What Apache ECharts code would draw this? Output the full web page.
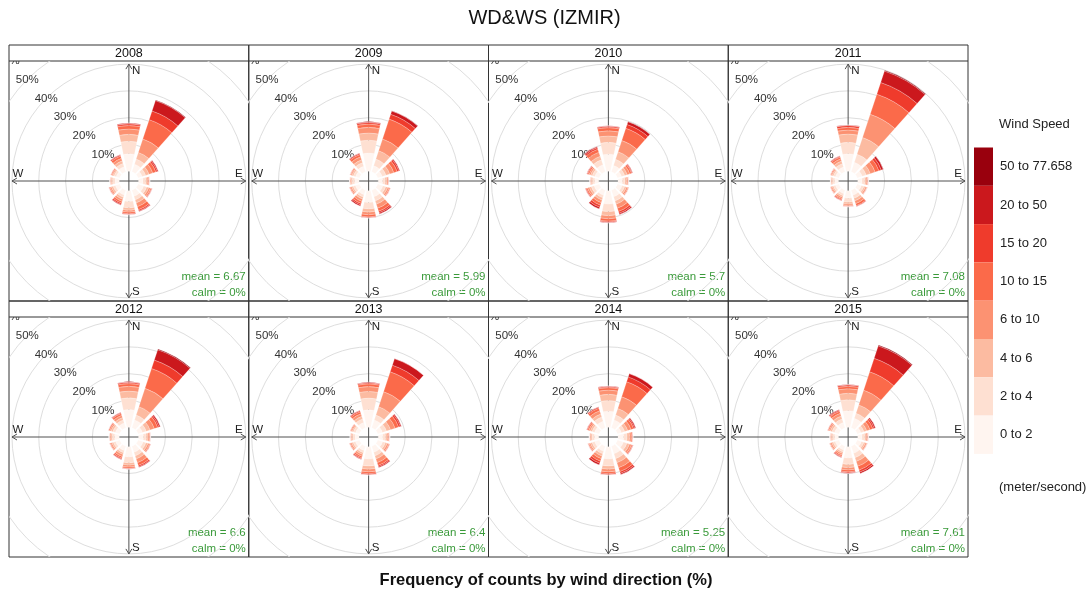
<!DOCTYPE html>
<html>
<head>
<meta charset="utf-8">
<script src="https://cdn.jsdelivr.net/npm/echarts@6/dist/echarts.min.js"></script>
<style>
  html, body { margin: 0; padding: 0; background: #ffffff; }
  #chart { width: 1089px; height: 592px; }
</style>
</head>
<body>
<div id="chart"></div>
<script>
// Wind rose panels, one per year: share of hours (%) by direction and speed class.
const years = ['2008', '2009', '2010', '2011', '2012', '2013', '2014', '2015'];
const directions = ['0', '30', '60', '90', '120', '150', '180', '210', '240', '270', '300', '330'];
const speedBins = ['0 to 2', '2 to 4', '4 to 6', '6 to 10', '10 to 15', '15 to 20', '20 to 50', '50 to 77.658'];
const binColors = ['#FFF5F0', '#FEE0D2', '#FCBBA1', '#FC9272', '#FB6A4A', '#EF3B2C', '#CB181D', '#99000D'];
const ringTicks = [10, 20, 30, 40, 50, 60];
const meanSpeed = ['6.67', '5.99', '5.7', '7.08', '6.6', '6.4', '5.25', '7.61'];
const calmPct = ['0%', '0%', '0%', '0%', '0%', '0%', '0%', '0%'];

// rows: direction (0..330), columns: speed class (0-2 .. 50-77.658)
const rose2008 = [
  [6.5, 4.7, 2.6, 2.0, 1.3, 0.6, 0.3, 0],
  [3.0, 2.0, 2.6, 5.3, 7.6, 3.4, 4.1, 0.2],
  [1.6, 1.4, 1.3, 1.5, 1.2, 0.6, 0.4, 0],
  [1.7, 1.0, 0.6, 0.5, 0.3, 0.1, 0, 0],
  [2.2, 1.2, 0.8, 0.7, 0.4, 0.2, 0.1, 0],
  [2.4, 1.4, 1.2, 1.5, 1.2, 0.5, 0.3, 0],
  [4.0, 2.4, 0.9, 0.7, 0.6, 0.3, 0.1, 0],
  [1.9, 0.9, 0.8, 0.8, 0.7, 0.5, 0.3, 0],
  [1.7, 0.9, 0.7, 0.5, 0.3, 0.2, 0, 0],
  [1.6, 0.9, 0.5, 0.3, 0.2, 0, 0, 0],
  [1.4, 0.8, 0.5, 0.4, 0.3, 0.2, 0, 0],
  [2.0, 1.3, 1.0, 1.0, 0.9, 0.4, 0.2, 0]
];
const rose2009 = [
  [6.8, 4.8, 2.7, 2.1, 1.2, 0.6, 0.3, 0],
  [2.4, 2.6, 3.3, 4.6, 7.8, 1.9, 1.3, 0.1],
  [1.7, 1.5, 1.5, 1.6, 1.3, 0.7, 0.4, 0],
  [1.6, 1.0, 0.6, 0.5, 0.2, 0.1, 0, 0],
  [2.0, 1.1, 0.8, 0.6, 0.3, 0.2, 0, 0],
  [2.6, 1.6, 1.3, 1.6, 1.2, 0.6, 0.5, 0],
  [4.4, 2.4, 1.2, 1.0, 0.8, 0.3, 0.1, 0],
  [1.8, 0.9, 0.8, 0.9, 0.8, 0.6, 0.5, 0],
  [1.6, 0.9, 0.6, 0.5, 0.3, 0.1, 0, 0],
  [1.6, 0.9, 0.5, 0.3, 0.2, 0, 0, 0],
  [1.5, 0.9, 0.6, 0.4, 0.3, 0.1, 0, 0],
  [2.2, 1.4, 1.1, 1.2, 0.9, 0.4, 0.2, 0]
];
const rose2010 = [
  [6.4, 4.4, 2.4, 1.9, 1.2, 0.5, 0.2, 0],
  [2.5, 2.4, 3.0, 4.4, 4.8, 1.5, 1.1, 0.1],
  [1.6, 1.2, 1.0, 1.0, 0.7, 0.3, 0.2, 0],
  [1.6, 1.0, 0.6, 0.5, 0.2, 0.1, 0, 0],
  [1.8, 1.0, 0.7, 0.6, 0.3, 0.1, 0, 0],
  [2.6, 1.6, 1.3, 1.6, 1.3, 0.7, 0.5, 0],
  [5.0, 2.8, 1.5, 1.2, 0.9, 0.4, 0.2, 0],
  [2.0, 1.0, 0.9, 1.0, 1.0, 0.8, 0.7, 0],
  [2.0, 1.1, 0.8, 0.7, 0.5, 0.3, 0.1, 0],
  [1.5, 0.8, 0.5, 0.3, 0.2, 0, 0, 0],
  [1.7, 1.0, 0.7, 0.6, 0.5, 0.3, 0.1, 0],
  [2.8, 1.9, 1.4, 1.6, 1.2, 0.6, 0.4, 0]
];
const rose2011 = [
  [6.5, 4.3, 3.1, 1.5, 1.0, 0.7, 0.2, 0],
  [3.7, 3.2, 6.6, 9.1, 7.9, 4.6, 4.5, 0.3],
  [1.9, 1.6, 1.6, 1.9, 1.5, 0.9, 0.8, 0.1],
  [1.6, 1.0, 0.6, 0.5, 0.2, 0.1, 0, 0],
  [1.6, 1.0, 0.6, 0.5, 0.2, 0.1, 0, 0],
  [2.0, 1.2, 1.0, 1.1, 0.8, 0.3, 0.1, 0],
  [2.8, 1.5, 0.7, 0.5, 0.3, 0.2, 0, 0],
  [1.4, 0.8, 0.6, 0.6, 0.4, 0.3, 0.1, 0],
  [1.4, 0.8, 0.5, 0.4, 0.3, 0.1, 0, 0],
  [1.4, 0.8, 0.4, 0.3, 0.1, 0, 0, 0],
  [1.4, 0.8, 0.5, 0.4, 0.3, 0.1, 0, 0],
  [1.9, 1.3, 1.0, 0.9, 0.7, 0.3, 0.2, 0]
];
const rose2012 = [
  [6.6, 4.4, 2.5, 1.8, 1.0, 0.5, 0.2, 0],
  [3.1, 1.9, 3.3, 7.2, 7.8, 3.3, 4.1, 0.3],
  [1.7, 1.5, 1.5, 1.7, 1.3, 0.6, 0.5, 0],
  [1.8, 1.1, 0.7, 0.5, 0.3, 0.1, 0, 0],
  [2.0, 1.1, 0.8, 0.6, 0.3, 0.2, 0, 0],
  [2.4, 1.4, 1.2, 1.5, 1.1, 0.5, 0.3, 0],
  [3.8, 2.2, 0.9, 0.7, 0.5, 0.2, 0.1, 0],
  [1.7, 0.9, 0.7, 0.8, 0.6, 0.4, 0.2, 0],
  [1.6, 0.9, 0.6, 0.5, 0.3, 0.1, 0, 0],
  [1.7, 0.9, 0.6, 0.4, 0.2, 0, 0, 0],
  [1.7, 1.0, 0.7, 0.5, 0.4, 0.2, 0, 0],
  [1.9, 1.2, 0.9, 0.9, 0.7, 0.3, 0.2, 0]
];
const rose2013 = [
  [6.5, 4.4, 2.5, 1.8, 1.0, 0.4, 0.2, 0],
  [3.1, 1.9, 3.3, 5.9, 7.8, 2.6, 2.6, 0],
  [1.8, 1.6, 1.6, 1.8, 1.4, 0.7, 0.4, 0],
  [1.7, 1.0, 0.7, 0.5, 0.3, 0.1, 0, 0],
  [1.9, 1.1, 0.7, 0.6, 0.3, 0.2, 0, 0],
  [2.4, 1.4, 1.2, 1.5, 1.1, 0.5, 0.4, 0],
  [4.6, 2.6, 1.2, 1.0, 0.7, 0.4, 0.1, 0],
  [1.7, 0.9, 0.7, 0.7, 0.6, 0.4, 0.2, 0],
  [1.6, 0.9, 0.6, 0.5, 0.3, 0.1, 0, 0],
  [1.5, 0.8, 0.5, 0.3, 0.2, 0, 0, 0],
  [1.5, 0.9, 0.5, 0.4, 0.3, 0.1, 0, 0],
  [2.1, 1.4, 1.0, 1.0, 0.8, 0.4, 0.2, 0]
];
const rose2014 = [
  [6.0, 4.0, 2.3, 1.6, 0.9, 0.4, 0.2, 0],
  [3.1, 1.9, 2.6, 4.6, 5.9, 1.9, 1.3, 0],
  [1.5, 1.3, 1.2, 1.3, 1.0, 0.5, 0.4, 0],
  [2.1, 1.3, 0.9, 0.7, 0.4, 0.2, 0, 0],
  [2.3, 1.4, 1.0, 0.8, 0.4, 0.2, 0.1, 0],
  [3.0, 1.9, 1.6, 2.0, 1.5, 0.7, 0.5, 0],
  [4.6, 2.6, 1.2, 1.0, 0.7, 0.4, 0.1, 0],
  [2.0, 1.0, 0.9, 1.0, 1.0, 0.8, 0.7, 0],
  [1.8, 1.0, 0.7, 0.5, 0.3, 0.2, 0, 0],
  [1.6, 0.9, 0.5, 0.3, 0.2, 0, 0, 0],
  [1.8, 1.0, 0.7, 0.6, 0.5, 0.3, 0.1, 0],
  [2.6, 1.6, 1.2, 1.3, 1.0, 0.4, 0.2, 0]
];
const rose2015 = [
  [6.2, 4.1, 2.4, 1.7, 0.9, 0.5, 0.2, 0],
  [3.7, 2.0, 3.3, 5.8, 7.2, 5.3, 4.9, 0.3],
  [1.4, 1.2, 1.1, 1.3, 1.1, 0.6, 0.5, 0],
  [1.6, 1.0, 0.6, 0.5, 0.2, 0.1, 0, 0],
  [1.6, 1.0, 0.6, 0.5, 0.2, 0.1, 0, 0],
  [2.8, 1.7, 1.5, 1.9, 1.5, 0.8, 0.6, 0],
  [4.2, 2.4, 1.2, 0.9, 0.7, 0.4, 0.2, 0],
  [1.5, 0.8, 0.6, 0.6, 0.5, 0.3, 0.2, 0],
  [1.5, 0.8, 0.6, 0.5, 0.3, 0.1, 0, 0],
  [1.4, 0.8, 0.5, 0.3, 0.2, 0, 0, 0],
  [1.7, 1.0, 0.7, 0.5, 0.4, 0.2, 0, 0],
  [2.1, 1.4, 1.1, 1.1, 0.8, 0.4, 0.3, 0]
];
const roses = [rose2008, rose2009, rose2010, rose2011, rose2012, rose2013, rose2014, rose2015];

// ---- layout ----
const FONT = '"Liberation Sans", Arial, Helvetica, sans-serif';
const FRAME_L = 9, FRAME_R = 968, FRAME_T = 45;
const COL_W = (FRAME_R - FRAME_L) / 4;
const STRIP_H = 16, PLOT_H = 240, ROW_H = STRIP_H + PLOT_H;
const PX_PER_PCT = 2.68;   // radial pixels per percent
const HOLE_PCT = 3.62;     // empty centre, in percent units
const RADIUS_MAX = 45;     // polar value range for the wedges
const AXIS_PCT = 40;       // compass arms reach the 40% ring

// grey rings + percentage labels on the upper-left diagonal
function renderRing(params, api) {
  const c = api.coord([0, 0]);
  const v = api.value(2);
  const r = api.size([HOLE_PCT + v, 0])[0];
  return {
    type: 'group',
    children: [
      { type: 'circle', shape: { cx: c[0], cy: c[1], r: r },
        style: { fill: 'none', stroke: '#dedede', lineWidth: 1 } },
      { type: 'text', x: c[0] - r * Math.SQRT1_2, y: c[1] - r * Math.SQRT1_2,
        style: { text: v + '%', fill: '#333', font: '11.5px ' + FONT, align: 'center', verticalAlign: 'middle' } }
    ]
  };
}

// compass cross with open arrow heads and N/E/S/W letters
function renderCompass(params, api) {
  const c = api.coord([0, 0]);
  const L = api.size([HOLE_PCT + api.value(2), 0])[0];
  const x = c[0], y = c[1];
  const st = { stroke: '#505050', lineWidth: 1 };
  const ln = (x1, y1, x2, y2) => ({ type: 'line', shape: { x1, y1, x2, y2 }, style: st });
  const tx = (t, px, py, align) => ({ type: 'text', x: px, y: py,
    style: { text: t, fill: '#222', font: '11.5px ' + FONT, align: align, verticalAlign: 'middle' } });
  const ah = 5, aw = 3;
  return {
    type: 'group',
    children: [
      ln(x, y - L, x, y + L),
      ln(x - L, y, x + L, y),
      ln(x - aw, y - L + ah, x, y - L), ln(x + aw, y - L + ah, x, y - L),
      ln(x - aw, y + L - ah, x, y + L), ln(x + aw, y + L - ah, x, y + L),
      ln(x - L + ah, y - aw, x - L, y), ln(x - L + ah, y + aw, x - L, y),
      ln(x + L - ah, y - aw, x + L, y), ln(x + L - ah, y + aw, x + L, y),
      tx('N', x + 3, y - L + 7, 'left'),
      tx('S', x + 3, y + L - 6, 'left'),
      tx('W', x - L + 6, y - 7, 'center'),
      tx('E', x + L - 7, y - 7, 'center')
    ]
  };
}

const polar = [], angleAxis = [], radiusAxis = [], grid = [], xAxis = [], yAxis = [];
const series = [], graphic = [];
const hidden = { show: false };

years.forEach((yr, i) => {
  const col = i % 4, row = Math.floor(i / 4);
  const x0 = FRAME_L + col * COL_W;
  const stripTop = FRAME_T + row * ROW_H;
  const plotTop = stripTop + STRIP_H;
  const cx = x0 + COL_W / 2, cy = plotTop + PLOT_H / 2;

  polar.push({ center: [cx, cy], radius: [HOLE_PCT * PX_PER_PCT, (HOLE_PCT + RADIUS_MAX) * PX_PER_PCT] });
  angleAxis.push({ polarIndex: i, type: 'category', data: directions, startAngle: 105, clockwise: true,
    boundaryGap: true, axisLine: hidden, axisTick: hidden, axisLabel: hidden, splitLine: hidden, splitArea: hidden });
  radiusAxis.push({ polarIndex: i, type: 'value', min: 0, max: RADIUS_MAX,
    axisLine: hidden, axisTick: hidden, axisLabel: hidden, splitLine: hidden, splitArea: hidden });

  const hx = COL_W / 2 / PX_PER_PCT, hy = PLOT_H / 2 / PX_PER_PCT;
  grid.push({ left: x0, top: plotTop, width: COL_W, height: PLOT_H, show: false });
  xAxis.push({ gridIndex: i, type: 'value', min: -hx, max: hx, show: false });
  yAxis.push({ gridIndex: i, type: 'value', min: -hy, max: hy, show: false });

  series.push({ type: 'custom', xAxisIndex: i, yAxisIndex: i, clip: true, z: 1, silent: true,
    encode: { x: 0, y: 1 }, data: ringTicks.map(v => [0, 0, v]), renderItem: renderRing });
  series.push({ type: 'custom', xAxisIndex: i, yAxisIndex: i, clip: true, z: 2, silent: true,
    encode: { x: 0, y: 1 }, data: [[0, 0, AXIS_PCT]], renderItem: renderCompass });

  speedBins.forEach((bin, b) => {
    series.push({
      type: 'bar', coordinateSystem: 'polar', polarIndex: i, name: bin, stack: 'rose' + i,
      data: roses[i].map(d => d[b]), barCategoryGap: '22%', z: 3, silent: true,
      itemStyle: { color: binColors[b], borderColor: 'rgba(255,255,255,0.45)', borderWidth: 0.5 }
    });
  });

  // panel frame, strip and annotations
  graphic.push({ type: 'rect', shape: { x: x0, y: stripTop, width: COL_W, height: ROW_H },
    style: { fill: 'none', stroke: '#333', lineWidth: 1 } });
  graphic.push({ type: 'line', shape: { x1: x0, y1: plotTop, x2: x0 + COL_W, y2: plotTop },
    style: { stroke: '#333', lineWidth: 1 } });
  graphic.push({ type: 'text', x: cx, y: stripTop + STRIP_H / 2 + 0.5,
    style: { text: yr, fill: '#111', font: '12.5px ' + FONT, align: 'center', verticalAlign: 'middle' } });
  graphic.push({ type: 'text', x: x0 + COL_W - 3, y: plotTop + 216,
    style: { text: 'mean = ' + meanSpeed[i], fill: '#3a9a3a', font: '11.5px ' + FONT, align: 'right', verticalAlign: 'middle' } });
  graphic.push({ type: 'text', x: x0 + COL_W - 3, y: plotTop + 231.5,
    style: { text: 'calm = ' + calmPct[i], fill: '#3a9a3a', font: '11.5px ' + FONT, align: 'right', verticalAlign: 'middle' } });
});

graphic.push({ type: 'text', x: 544.5, y: 18,
  style: { text: 'WD&WS (IZMIR)', fill: '#111', font: '20px ' + FONT, align: 'center', verticalAlign: 'middle' } });
graphic.push({ type: 'text', x: 546, y: 580,
  style: { text: 'Frequency of counts by wind direction (%)', fill: '#111', font: 'bold 16.5px ' + FONT, align: 'center', verticalAlign: 'middle' } });
graphic.push({ type: 'text', x: 999, y: 124,
  style: { text: 'Wind Speed', fill: '#222', font: '13px ' + FONT, align: 'left', verticalAlign: 'middle' } });
graphic.push({ type: 'text', x: 999, y: 487,
  style: { text: '(meter/second)', fill: '#222', font: '13px ' + FONT, align: 'left', verticalAlign: 'middle' } });

const chart = echarts.init(document.getElementById('chart'), null, { renderer: 'canvas' });
chart.setOption({
  animation: false,
  backgroundColor: '#ffffff',
  textStyle: { fontFamily: FONT },
  legend: {
    data: speedBins.slice().reverse(),
    orient: 'vertical', left: 974, top: 147.5, padding: 0,
    itemWidth: 19, itemHeight: 38.3, itemGap: 0, icon: 'rect', selectedMode: false,
    itemStyle: { borderWidth: 0 },
    textStyle: { fontSize: 13, color: '#222', fontFamily: FONT, padding: [0, 0, 0, 2] }
  },
  polar, angleAxis, radiusAxis, grid, xAxis, yAxis, series, graphic
});
</script>
</body>
</html>
